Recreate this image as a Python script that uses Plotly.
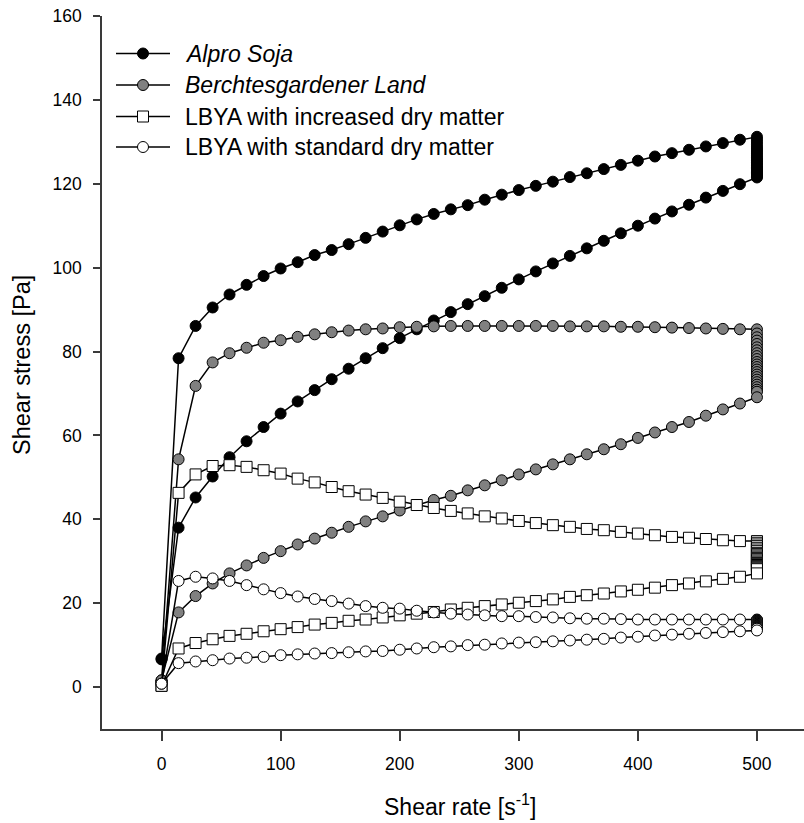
import plotly.graph_objects as go

# Shear rate steps of the ramp (s^-1); the down ramp retraces them in reverse
shear_up = [0, 14.3, 28.6, 42.9, 57.1, 71.4, 85.7, 100, 114.3, 128.6, 142.9, 157.1,
            171.4, 185.7, 200, 214.3, 228.6, 242.9, 257.1, 271.4, 285.7, 300, 314.3,
            328.6, 342.9, 357.1, 371.4, 385.7, 400, 414.3, 428.6, 442.9, 457.1, 471.4,
            485.7, 500]
shear_down = shear_up[::-1]
hold_rate = 500

series_names = ["Alpro Soja", "Berchtesgardener Land",
                "LBYA with increased dry matter", "LBYA with standard dry matter"]

# Shear stress [Pa]: up ramp, hold at 500 s^-1, down ramp
alpro_up = [6.6, 78.4, 86.1, 90.5, 93.6, 95.9, 98.0, 99.8, 101.3, 103.0, 104.2, 105.6,
            107.1, 108.6, 110.1, 111.5, 112.8, 113.9, 114.9, 116.2, 117.4, 118.5, 119.5,
            120.5, 121.6, 122.5, 123.5, 124.5, 125.5, 126.5, 127.3, 128.1, 128.9, 129.7,
            130.5, 131.2]
alpro_hold = [130.6, 130.0, 129.4, 128.8, 128.3, 127.8, 127.3, 126.8, 126.3, 125.9, 125.5,
              125.1, 124.7, 124.3, 123.9, 123.6, 123.3, 123.0, 122.7, 122.4, 122.1, 121.8]
alpro_down = [121.5, 119.9, 118.3, 116.7, 115.0, 113.4, 111.7, 110.0, 108.2, 106.4, 104.6,
              102.8, 101.0, 99.1, 97.2, 95.2, 93.2, 91.3, 89.4, 87.4, 85.3, 83.2, 80.8,
              78.4, 75.9, 73.4, 70.8, 68.1, 65.2, 62.0, 58.6, 54.8, 50.2, 45.2, 38.0, 6.8]

berch_up = [1.6, 54.3, 71.8, 77.4, 79.6, 80.9, 82.1, 82.7, 83.5, 84.1, 84.6, 85.0, 85.3,
            85.5, 85.8, 85.9, 86.0, 86.1, 86.1, 86.1, 86.1, 86.1, 86.1, 86.1, 86.0, 86.0,
            86.0, 85.9, 85.9, 85.8, 85.7, 85.6, 85.5, 85.4, 85.3, 85.3]
berch_hold = [84.3, 83.4, 82.6, 81.8, 81.0, 80.3, 79.6, 78.9, 78.2, 77.5, 76.9, 76.3, 75.7,
              75.1, 74.5, 73.9, 73.3, 72.7, 72.1, 71.5, 70.9, 70.4]
berch_down = [69.1, 67.6, 66.2, 64.7, 63.2, 62.0, 60.7, 59.4, 57.9, 56.7, 55.5, 54.3, 53.1,
              51.9, 50.7, 49.3, 48.1, 46.9, 45.6, 44.6, 43.4, 42.1, 40.7, 39.5, 38.2, 36.8,
              35.4, 34.0, 32.4, 30.8, 29.0, 27.1, 24.7, 21.7, 17.8, 1.6]

lbya_inc_up = [0.3, 46.3, 50.7, 52.7, 52.9, 52.5, 51.7, 50.9, 49.7, 48.8, 47.7, 46.7, 45.9,
               45.1, 44.2, 43.4, 42.7, 42.0, 41.4, 40.7, 40.2, 39.6, 39.1, 38.6, 38.2, 37.7,
               37.4, 37.0, 36.6, 36.2, 35.8, 35.6, 35.3, 35.0, 34.8, 34.8]
lbya_inc_hold = [34.4, 34.0, 33.6, 33.2, 32.8, 32.4, 32.0, 31.7, 31.4, 31.1, 30.8, 30.5,
                 30.2, 29.9, 29.6, 29.3, 29.1, 28.9, 28.7, 28.5, 28.3, 28.1]
lbya_inc_down = [27.1, 26.3, 25.8, 25.2, 24.7, 24.3, 23.7, 23.2, 22.8, 22.3, 21.9, 21.5,
                 20.9, 20.5, 20.1, 19.7, 19.3, 18.9, 18.5, 17.9, 17.5, 17.1, 16.6, 16.1,
                 15.8, 15.3, 14.9, 14.3, 13.8, 13.3, 12.7, 12.2, 11.4, 10.5, 9.2, 0.3]

lbya_std_up = [0.8, 25.3, 26.3, 25.9, 25.3, 24.3, 23.3, 22.4, 21.6, 21.0, 20.5, 19.9, 19.3,
               18.9, 18.7, 18.2, 17.8, 17.5, 17.3, 17.1, 16.9, 16.9, 16.7, 16.6, 16.4, 16.3,
               16.3, 16.2, 16.1, 16.1, 16.1, 16.1, 16.1, 16.1, 16.1, 16.1]
lbya_std_hold = [16.0, 15.9, 15.8, 15.7, 15.6, 15.5, 15.4, 15.3, 15.2, 15.1, 15.0, 14.9,
                 14.8, 14.7, 14.6, 14.5, 14.4, 14.3, 14.2, 14.1, 14.0, 13.9]
lbya_std_down = [13.5, 13.3, 13.1, 12.9, 12.7, 12.5, 12.3, 12.0, 11.8, 11.5, 11.3, 11.1,
                 10.9, 10.7, 10.6, 10.4, 10.1, 10.0, 9.7, 9.5, 9.2, 8.9, 8.6, 8.5, 8.3,
                 8.1, 8.0, 7.8, 7.6, 7.2, 7.0, 6.8, 6.4, 6.1, 5.7, 0.8]

curves = [
    (alpro_up, alpro_hold, alpro_down, "circle", "#000000"),
    (berch_up, berch_hold, berch_down, "circle", "#808080"),
    (lbya_inc_up, lbya_inc_hold, lbya_inc_down, "square", "#ffffff"),
    (lbya_std_up, lbya_std_hold, lbya_std_down, "circle", "#ffffff"),
]

FONT = "Arial, Liberation Sans, sans-serif"
W, H = 804, 823
ML, MR, MT, MB = 102, 0, 16, 94

fig = go.Figure()
for name, (up, hold, down, symbol, fill) in zip(series_names, curves):
    xs = shear_up + [hold_rate] * len(hold) + shear_down
    ys = up + hold + down
    fig.add_trace(go.Scatter(
        x=xs, y=ys, mode="lines+markers", name=name, showlegend=False,
        line=dict(color="black", width=1.5),
        marker=dict(symbol=symbol, size=11, color=fill,
                    line=dict(color="black", width=1)),
    ))

# pixel -> paper helpers for the hand-placed legend and titles
pw, ph = W - ML - MR, H - MT - MB
def px(xp):
    return (xp - ML) / pw
def py(yp):
    return (H - MB - yp) / ph

shapes, annotations = [], []
legend_rows = [53.5, 85, 116.5, 147]
for (name, (_, _, _, symbol, fill)), yc in zip(zip(series_names, curves), legend_rows):
    shapes.append(dict(type="line", xref="paper", yref="paper",
                       x0=px(116), x1=px(170), y0=py(yc), y1=py(yc),
                       line=dict(color="black", width=1.5)))
    shapes.append(dict(type="circle" if symbol == "circle" else "rect",
                       xref="paper", yref="paper",
                       x0=px(143 - 5.5), x1=px(143 + 5.5),
                       y0=py(yc + 5.5), y1=py(yc - 5.5),
                       fillcolor=fill, line=dict(color="black", width=1)))
    italic = not name.startswith("LBYA")
    annotations.append(dict(xref="paper", yref="paper", x=px(183), y=py(yc),
                            xanchor="left", yanchor="middle", showarrow=False,
                            text=f"<i>{name}</i>" if italic else name,
                            font=dict(family=FONT, size=23, color="black")))

# axis titles
annotations.append(dict(xref="paper", yref="paper", x=px(460), y=py(822),
                        xanchor="center", yanchor="bottom", showarrow=False,
                        text="Shear rate [s<sup>-1</sup>]",
                        font=dict(family=FONT, size=23, color="black")))
annotations.append(dict(xref="paper", yref="paper", x=px(22), y=py(365),
                        xanchor="center", yanchor="middle", showarrow=False,
                        textangle=-90, text="Shear stress [Pa]",
                        font=dict(family=FONT, size=23.5, color="black")))

axis_common = dict(showline=True, linecolor="#3a3a3a", linewidth=1.5,
                   ticks="outside", tickcolor="#3a3a3a", tickwidth=1.5,
                   showgrid=False, zeroline=False,
                   tickfont=dict(family=FONT, size=17.5, color="black"))

fig.update_layout(
    width=W, height=H,
    margin=dict(l=ML, r=MR, t=MT, b=MB),
    paper_bgcolor="white", plot_bgcolor="white",
    xaxis=dict(range=[-50, 539.5], tickvals=[0, 100, 200, 300, 400, 500],
               ticklen=10, ticklabelstandoff=8, **axis_common),
    yaxis=dict(range=[-10, 160], tickvals=list(range(0, 161, 20)),
               ticklen=7, ticklabelstandoff=8, **axis_common),
    shapes=shapes, annotations=annotations,
)

fig.write_html("out.html")
